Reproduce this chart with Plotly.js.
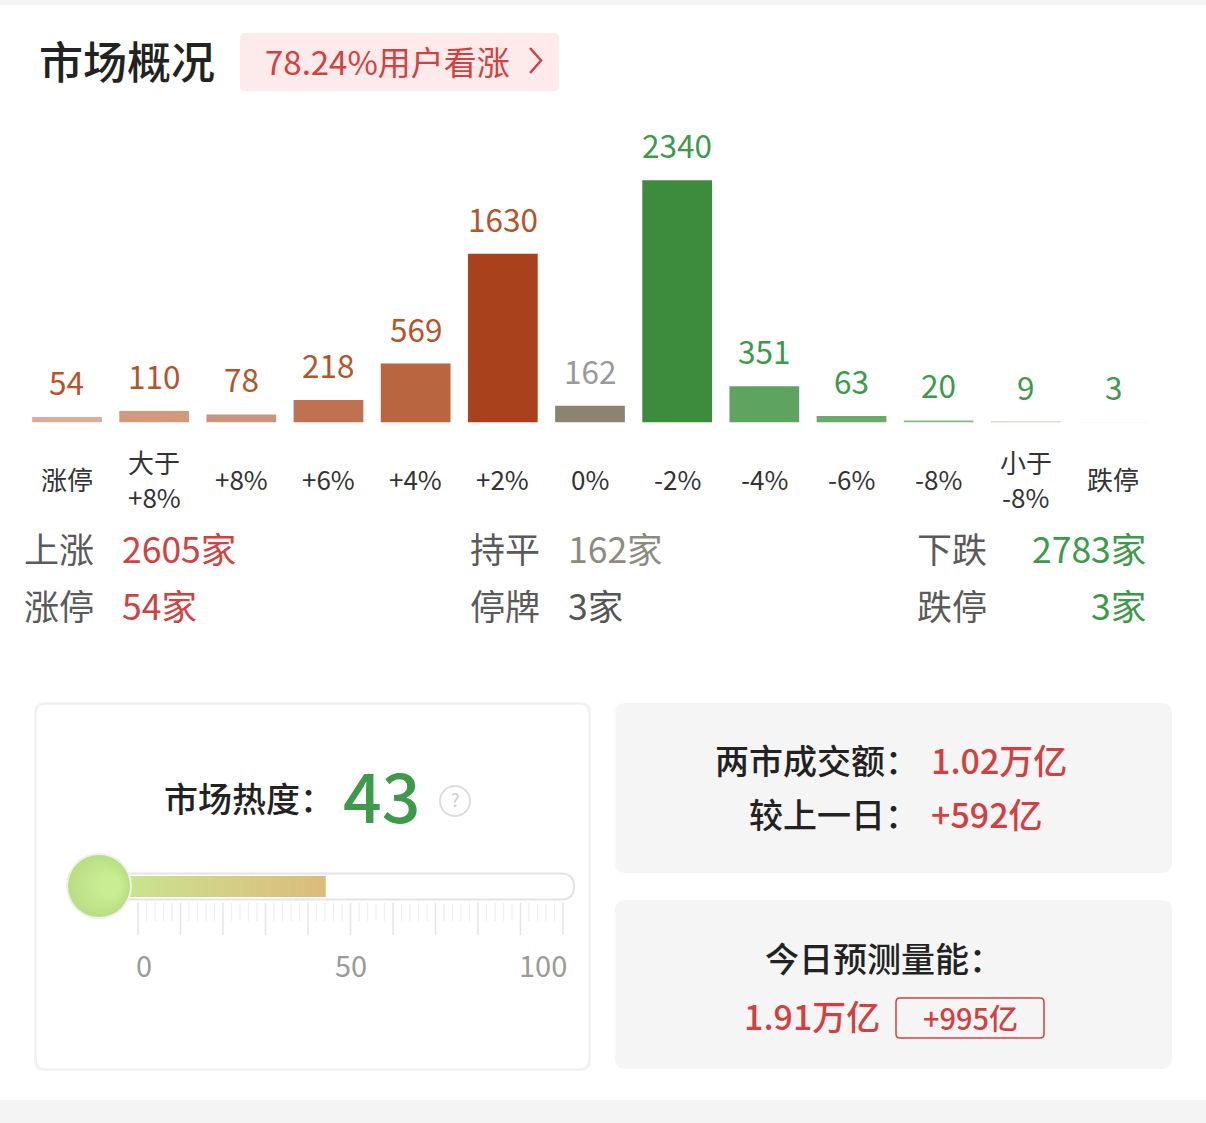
<!DOCTYPE html>
<html>
<head>
<meta charset="utf-8">
<script src="https://cdn.plot.ly/plotly-3.0.1.min.js"></script>
<style>
  html, body { margin:0; padding:0; background:#ffffff; }
  #chart { width:1206px; height:1123px; }
</style>
</head>
<body>
<div id="chart"></div>
<script>
// ---------------- DATA ----------------
const categories = ['涨停','大于+8%','+8%','+6%','+4%','+2%','0%','-2%','-4%','-6%','-8%','小于-8%','跌停'];
const tickLabels = ['涨停','大于<br>+8%','+8%','+6%','+4%','+2%','0%','-2%','-4%','-6%','-8%','小于<br>-8%','跌停'];
const counts = [54, 110, 78, 218, 569, 1630, 162, 2340, 351, 63, 20, 9, 3];
const barColors = ['#d8ae9a','#d4997b','#c9947b','#c0714f','#b9653f','#a8411c','#8b8471',
                   '#3d8b3d','#5ea35f','#6aab6b','#82ba83','#a3caa3','#cbe0cb'];
const labelColors = ['#b5542a','#b5542a','#b5542a','#b5542a','#b5542a','#b5542a','#9a9a9a',
                     '#3c9a48','#3c9a48','#3c9a48','#3c9a48','#3c9a48','#3c9a48'];

const headerTitle = '市场概况';
const bullishText = '78.24%用户看涨';

const summaryLabels = ['上涨','持平','下跌','涨停','停牌','跌停'];
const summaryValues = ['2605家','162家','2783家','54家','3家','3家'];

const heatLabel = '市场热度：';
const heatValue = 43;
const heatTicks = [0, 50, 100];

const turnoverLabels = ['两市成交额：','较上一日：'];
const turnoverValues = ['1.02万亿','+592亿'];
const forecastLabel = '今日预测量能：';
const forecastValue = '1.91万亿';
const forecastChange = '+995亿';

// ---------------- HELPERS ----------------
const W = 1206, H = 1123;
const px = x => x / W;
const py = y => 1 - y / H;
const FONT = '"Noto Sans CJK SC", "Noto Sans", sans-serif';
const RED = '#d2403f', GREEN = '#3c9a48', DARK = '#222222', GRAY = '#5a5a5a';
const TXT_LIFT = 2.5; // CJK glyphs sit slightly low when middle-anchored

function rect(x0, y0, x1, y1, fill, line, lw, layer) {
  return {type:'rect', xref:'paper', yref:'paper', x0:px(x0), x1:px(x1), y0:py(y1), y1:py(y0),
          fillcolor:fill, line:{color:line || fill, width:lw || 0}, layer:layer || 'below'};
}
function roundRect(x0, y0, x1, y1, r, fill, line, lw, layer) {
  const P = (x, y) => px(x).toFixed(6) + ',' + py(y).toFixed(6);
  const d = 'M' + P(x0 + r, y0) + ' L' + P(x1 - r, y0) + ' Q' + P(x1, y0) + ' ' + P(x1, y0 + r) +
            ' L' + P(x1, y1 - r) + ' Q' + P(x1, y1) + ' ' + P(x1 - r, y1) +
            ' L' + P(x0 + r, y1) + ' Q' + P(x0, y1) + ' ' + P(x0, y1 - r) +
            ' L' + P(x0, y0 + r) + ' Q' + P(x0, y0) + ' ' + P(x0 + r, y0) + ' Z';
  return {type:'path', xref:'paper', yref:'paper', path:d, fillcolor:fill || 'rgba(0,0,0,0)',
          line:{color:line || 'rgba(0,0,0,0)', width:lw || 0}, layer:layer || 'below'};
}
function circle(cx, cy, r, fill, line, lw) {
  return {type:'circle', xref:'paper', yref:'paper', x0:px(cx - r), x1:px(cx + r), y0:py(cy + r), y1:py(cy - r),
          fillcolor:fill, line:{color:line || fill, width:lw || 0}, layer:'below'};
}
function line(x0, y0, x1, y1, color, w) {
  return {type:'line', xref:'paper', yref:'paper', x0:px(x0), x1:px(x1), y0:py(y0), y1:py(y1),
          line:{color:color, width:w}, layer:'below'};
}
function ann(text, x, y, size, color, xanchor, weight) {
  return {text:text, x:px(x), y:py(y - TXT_LIFT), xref:'paper', yref:'paper', showarrow:false,
          xanchor:xanchor || 'left', yanchor:'middle',
          font:{family:FONT, size:size, color:color, weight:weight || 400}};
}
function hex2rgb(h) { return [1,3,5].map(i => parseInt(h.substr(i, 2), 16)); }
function mix(a, b, t) {
  const A = hex2rgb(a), B = hex2rgb(b);
  return 'rgb(' + A.map((v, i) => Math.round(v + (B[i] - v) * t)).join(',') + ')';
}

// ---------------- BARS ----------------
const barTrace = {
  type:'bar', x:categories, y:counts,
  marker:{color:barColors, line:{width:0}},
  hoverinfo:'skip', showlegend:false
};

const shapes = [];
const annotations = [];

// page bands
shapes.push(rect(0, 0, W, 5, '#f4f4f4'));
shapes.push(rect(0, 1100, W, H, '#f4f4f4'));

// header
annotations.push(ann(headerTitle, 37, 62, 44, DARK, 'left', 500));
shapes.push(roundRect(240, 33, 559, 91, 5, '#fcebea'));
annotations.push(ann(bullishText, 263, 63, 33, RED, 'left'));
shapes.push({type:'path', xref:'paper', yref:'paper',
  path:'M' + px(530) + ',' + py(48) + ' L' + px(541) + ',' + py(60.5) + ' L' + px(530) + ',' + py(73),
  line:{color:RED, width:2.5}, layer:'above'});

// bar value labels & category labels (multi-line labels drawn one line at a time)
const LABEL_LINE = 35;
categories.forEach((c, i) => {
  annotations.push({text:String(counts[i]), x:c, y:counts[i], xref:'x', yref:'y', showarrow:false,
    xanchor:'center', yanchor:'middle', yshift:36,
    font:{family:FONT, size:31.5, color:labelColors[i]}});
  const parts = tickLabels[i].split('<br>');
  parts.forEach((p, j) => {
    const yc = 481 + (j - (parts.length - 1) / 2) * LABEL_LINE;
    annotations.push({text:p, x:c, y:py(yc - TXT_LIFT), xref:'x', yref:'paper', showarrow:false,
      xanchor:'center', yanchor:'middle', borderpad:0,
      font:{family:FONT, size:26, color:'#333333'}});
  });
});

// summary rows
const sumX = [[22, 120], [468, 566], [915, 1148]];
const sumY = [550, 607];
const sumColors = [RED, '#8c8b80', GREEN, RED, '#555555', GREEN];
summaryLabels.forEach((lab, i) => {
  const col = i % 3, row = Math.floor(i / 3);
  annotations.push(ann(lab, sumX[col][0], sumY[row], 35, GRAY, 'left'));
  annotations.push(ann(summaryValues[i], sumX[col][1], sumY[row], 35.5, sumColors[i], col === 2 ? 'right' : 'left'));
});

// ---------------- HEAT CARD ----------------
shapes.push(roundRect(34, 702, 591, 1071, 11, '#f3f3f3'));
shapes.push(roundRect(36, 704, 589, 1069, 10, '#ffffff', '#ececec', 1));
annotations.push(ann(heatLabel, 162, 800, 34, DARK, 'left', 500));
annotations.push(ann(String(heatValue), 341, 796, 68, GREEN, 'left', 500));
shapes.push(circle(455, 801, 15, 'rgba(0,0,0,0)', '#dddddd', 2));
annotations.push(ann('?', 455, 801, 18, '#cccccc', 'center'));

// gauge scale
const g0 = 138, g1 = 563;
const gx = v => g0 + v / 100 * (g1 - g0);
for (let v = 0; v <= 100; v += 2) {
  const long = v % 10 === 0;
  shapes.push(line(gx(v), 903, gx(v), long ? 935 : 921, long ? '#e6e6e6' : '#eeeeee', long ? 1.6 : 1.2));
}
// track
shapes.push(roundRect(100, 873.5, 574, 899.5, 13, '#ffffff', '#e4e4e4', 2));
// gradient fill (ends at the heat value on the gauge scale)
const fillEnd = gx(heatValue) + 5;
const fx0 = 100, N = 48;
for (let k = 0; k < N; k++) {
  const a = fx0 + (fillEnd - fx0) * k / N;
  const b = fx0 + (fillEnd - fx0) * (k + 1) / N;
  shapes.push(rect(a, 876, Math.min(b + 0.6, fillEnd), 897, mix('#c8ea90', '#dcbb7b', k / (N - 1))));
}
// bulb
shapes.push(circle(99, 886, 33, '#eef0ec'));
const bulbN = 12;
shapes.push(circle(99, 886, 31, '#b9df84'));
for (let k = 1; k <= bulbN; k++) {
  const r = 31 * (1 - k / (bulbN + 6));
  shapes.push(circle(99 + (31 - r) * 0.55, 886, r, mix('#b9df84', '#c9ed93', k / bulbN)));
}
annotations.push(ann(String(heatTicks[0]), gx(heatTicks[0]) - 4, 966, 29, '#9a9a9a', 'left'));
annotations.push(ann(String(heatTicks[1]), gx(heatTicks[1]), 966, 29, '#9a9a9a', 'center'));
annotations.push(ann(String(heatTicks[2]), gx(heatTicks[2]) + 6, 966, 29, '#9a9a9a', 'right'));

// ---------------- TURNOVER CARDS ----------------
shapes.push(roundRect(615, 703, 1172, 873, 11, '#f5f5f5'));
shapes.push(roundRect(615, 900, 1172, 1069, 11, '#f5f5f5'));
annotations.push(ann(turnoverLabels[0], 921, 762, 34, DARK, 'right', 500));
annotations.push(ann(turnoverValues[0], 929, 762, 34, RED, 'left', 500));
annotations.push(ann(turnoverLabels[1], 921, 816, 34, DARK, 'right', 500));
annotations.push(ann(turnoverValues[1], 929, 816, 34, RED, 'left', 500));
annotations.push(ann(forecastLabel, 884, 960, 34, DARK, 'center', 500));
annotations.push(ann(forecastValue, 742, 1018, 34, RED, 'left', 500));
shapes.push(roundRect(896, 998, 1044, 1038, 4, '#f5f5f5', '#d2403f', 1.5, 'above'));
annotations.push(ann(forecastChange, 970, 1019, 29, RED, 'center', 500));

// ---------------- LAYOUT ----------------
const baseline = 422.5, pxPerUnit = 0.1035, yMax = 2600;
const layout = {
  width:W, height:H,
  margin:{l:0, r:0, t:0, b:0, pad:0},
  paper_bgcolor:'#ffffff', plot_bgcolor:'rgba(0,0,0,0)',
  showlegend:false,
  bargap:0.2,
  xaxis:{domain:[px(23.4), px(1156.6)], type:'category', range:[-0.5, 12.5],
         showticklabels:false, showgrid:false, zeroline:false, showline:false, ticks:'', fixedrange:true},
  yaxis:{domain:[py(baseline), py(baseline - yMax * pxPerUnit)], range:[0, yMax],
         showticklabels:false, showgrid:false, zeroline:false, showline:false, ticks:'', fixedrange:true},
  font:{family:FONT},
  shapes:shapes,
  annotations:annotations
};

Plotly.newPlot('chart', [barTrace], layout, {displayModeBar:false, staticPlot:true});
</script>
</body>
</html>
